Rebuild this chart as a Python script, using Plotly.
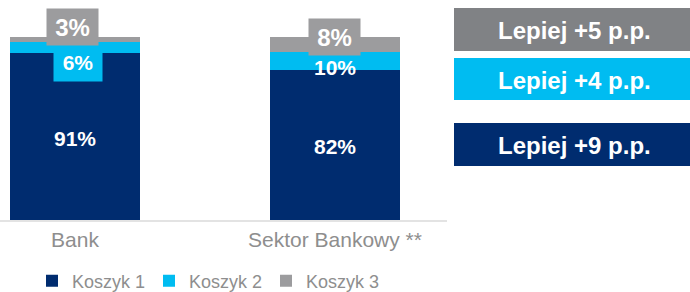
import plotly.graph_objects as go
import numpy as np

categories = ["Bank", "Sektor Bankowy **"]
koszyk1 = [91, 82]
koszyk2 = [6, 10]
koszyk3 = [3, 8]
series_names = ["Koszyk 1", "Koszyk 2", "Koszyk 3"]
change_labels = ["Lepiej +5 p.p.", "Lepiej +4 p.p.", "Lepiej +9 p.p."]

NAVY = "#002C6F"
LBLUE = "#00BCF1"
GRAY = "#9C9C9E"
DGRAY = "#808285"
TXTGRAY = "#8E8E8E"
FONT = "Liberation Sans, Arial, sans-serif"

W, H = 690, 292
plot_w = 447
t_m, b_m = 0, 72
plot_h = H - t_m - b_m  # 220
px_per_unit = 1.83
cat_px = 260.0
first_center_px = 75.0

fig = go.Figure()
series = [koszyk1, koszyk2, koszyk3]
colors = [NAVY, LBLUE, GRAY]
for name, vals, col in zip(series_names, series, colors):
    fig.add_trace(go.Bar(
        x=categories, y=vals, name=name, marker=dict(color=col, line=dict(width=0)),
        width=0.5, hoverinfo="skip"
    ))

# labels
vals_arr = np.array(series, dtype=float)  # shape (3, 2)
bases = np.vstack([np.zeros(2), np.cumsum(vals_arr, axis=0)[:-1]])
centers = bases + vals_arr / 2

# style: per series/category pixel offsets and box settings
yshifts = [[-1.5, -1.5], [-14, -6.5], [13, 7.5]]
xshifts = [[0, 0], [3, 0], [-2.5, -0.5]]
boxes = [[None, None], [LBLUE, None], [GRAY, GRAY]]
box_h = [[None, None], [38, None], [36, 36]]
box_w = [[None, None], [48, None], [51, 51]]
label_size = [21, 21, 24]

for si in range(3):
    for ci in range(2):
        kw = dict(
            x=categories[ci], y=centers[si][ci], xref="x", yref="y",
            text=f"{series[si][ci]}%", showarrow=False,
            font=dict(family=FONT, size=label_size[si], color="white", weight="bold"),
            yshift=yshifts[si][ci], xshift=xshifts[si][ci],
            xanchor="center", yanchor="middle",
        )
        if boxes[si][ci]:
            kw.update(bgcolor=boxes[si][ci], width=box_w[si][ci], height=box_h[si][ci], borderpad=0)
        fig.add_annotation(**kw)

# right-hand change boxes (pixel geometry -> paper coords)
def px2paper_x(px):
    return px / plot_w

def px2paper_y(py):
    return (t_m + plot_h - py) / plot_h

box_rows = [(8, 51, DGRAY), (58, 100, LBLUE), (123, 166, NAVY)]
for (y0, y1, col), lab in zip(box_rows, change_labels):
    fig.add_shape(type="rect", xref="paper", yref="paper",
                  x0=px2paper_x(454), x1=px2paper_x(700),
                  y0=px2paper_y(y1), y1=px2paper_y(y0),
                  fillcolor=col, line=dict(width=0), layer="above")
    fig.add_annotation(x=px2paper_x(574), y=px2paper_y((y0 + y1) / 2 + 1), xref="paper", yref="paper",
                       text=lab, showarrow=False, xanchor="center", yanchor="middle",
                       font=dict(family=FONT, size=24, color="white", weight="bold"))

r0 = -first_center_px / cat_px
r1 = r0 + plot_w / cat_px
fig.update_layout(
    width=W, height=H,
    margin=dict(l=0, r=W - plot_w, t=t_m, b=b_m, pad=0, autoexpand=False),
    barmode="stack",
    plot_bgcolor="white", paper_bgcolor="white",
    font=dict(family=FONT, color=TXTGRAY),
    xaxis=dict(type="category", range=[r0, r1], showline=True, linecolor="#E3E3E3", linewidth=2,
               showgrid=False, ticks="", automargin=False,
               tickfont=dict(size=21, color=TXTGRAY, family=FONT)),
    yaxis=dict(range=[0, plot_h / px_per_unit], visible=False, showgrid=False, automargin=False),
    legend=dict(orientation="h", x=px2paper_x(32), xanchor="left", y=px2paper_y(281), yanchor="middle",
                font=dict(size=18, color=TXTGRAY, family=FONT), traceorder="normal",
                entrywidth=72, entrywidthmode="pixels",
                itemclick=False, itemdoubleclick=False, bgcolor="rgba(0,0,0,0)"),
    showlegend=True,
)

fig.write_html("out.html", config={"displayModeBar": False, "staticPlot": True},
               post_script="document.body.style.margin='0';document.body.style.overflow='hidden';")
